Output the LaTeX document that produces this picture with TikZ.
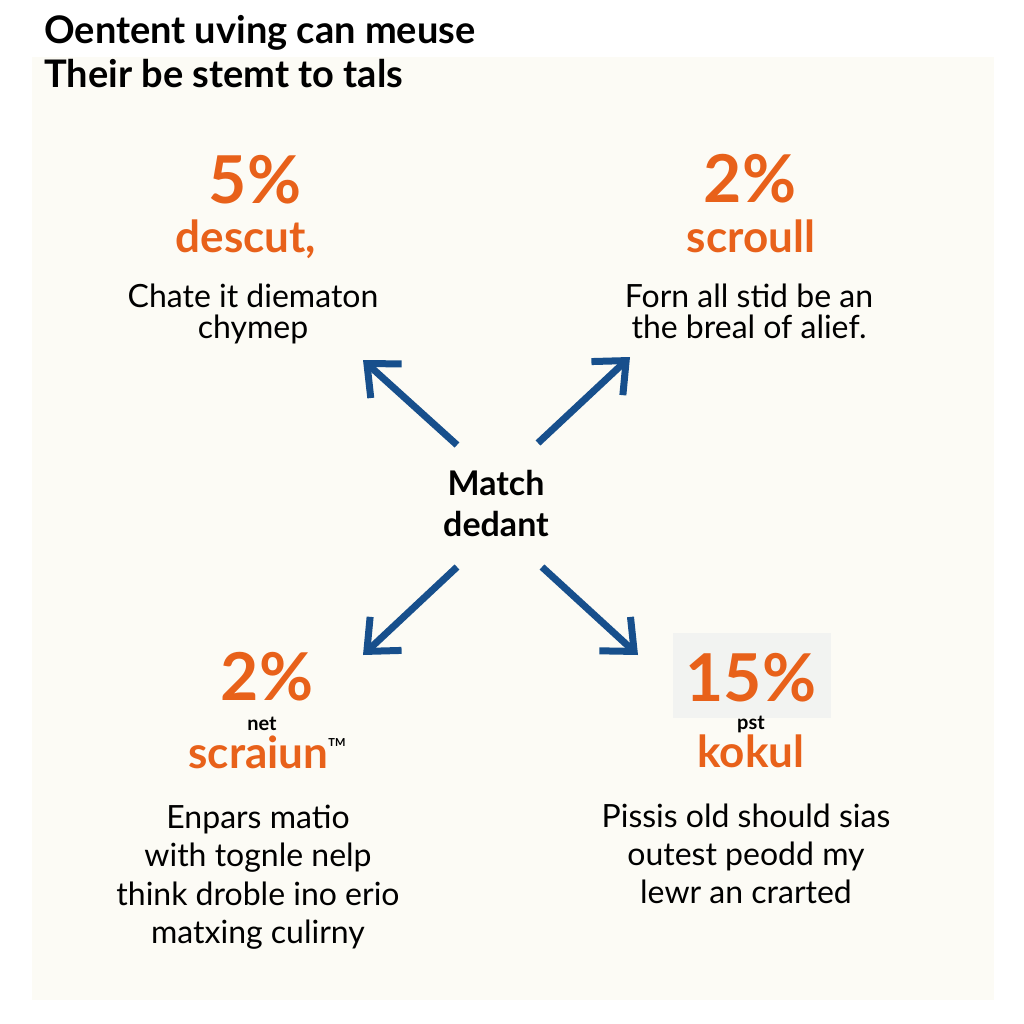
\documentclass[tikz,border=0pt]{standalone}
\usepackage{fontspec}
\setmainfont{Lato}
\usetikzlibrary{arrows.meta}
\definecolor{panel}{HTML}{FCFBF5}
\definecolor{boxgrey}{HTML}{F2F3F1}
\definecolor{accent}{HTML}{E8611A}
\definecolor{arrowblue}{HTML}{174F8C}
\newcommand{\smallbold}[1]{{\fontsize{20}{20}\selectfont\bfseries\color{black}#1}}
\newcommand{\bigpct}[1]{{\fontsize{66}{66}\selectfont\bfseries #1}}
\newcommand{\tmark}{\raisebox{22pt}{\fontsize{11}{11}\selectfont\bfseries\color{black}TM}}
\tikzset{
  title/.style={anchor=base west, inner sep=0pt, font=\fontsize{38}{42}\selectfont\bfseries, text=black},
  pct/.style={anchor=base, inner sep=0pt, font=\fontsize{66}{70}\selectfont\bfseries, text=accent},
  word/.style={anchor=base, inner sep=0pt, font=\fontsize{44}{48}\selectfont\bfseries, text=accent},
  stack/.style={anchor=south, inner sep=0pt, align=center, text=accent,
    font=\fontsize{44}{44}\selectfont\bfseries},
  body/.style={anchor=base, inner sep=0pt, font=\fontsize{32}{38}\selectfont, text=black},
  centre/.style={anchor=base, inner sep=0pt, font=\fontsize{34}{40}\selectfont\bfseries, text=black},
  spoke/.style={draw=arrowblue, line width=7pt, -{Straight Barb[length=26pt, width=46pt]}}
}
\begin{document}
\begin{tikzpicture}[x=1pt,y=-1pt]
\useasboundingbox (0,0) rectangle (1024,1024);
\fill[white] (0,0) rectangle (1024,1024);
\fill[panel] (32,57) rectangle (994,1000);
\fill[boxgrey] (673,633) rectangle (831,718);
% title
\node[title] (t1) at (44,44) {Oentent uving can meuse};
\node[title] (t2) at (44,88) {Their be stemt to tals};
% top left
\node[pct] (tlp) at (255,204) {5\%};
\node[word] (tlw) at (246,252) {descut,};
\node[body] (tlb1) at (253,307) {Chate it diematon};
\node[body] (tlb2) at (253,338) {chymep};
% top right
\node[pct] (trp) at (750,203) {2\%};
\node[word] (trw) at (751,252) {scroull};
\node[body] (trb1) at (749,307) {Forn all stid be an};
\node[body] (trb2) at (749,338) {the breal of alief.};
% centre
\node[centre] (c1) at (496,495) {Match};
\node[centre] (c2) at (496,536) {dedant};
% bottom left
\node[pct] (blp) at (267,700) {2\%};
\node[stack] (blw) at (267,769) {\smallbold{net}\hspace*{10pt}\\[-6pt] scraiun\tmark};
\node[body] (blb1) at (258,828) {Enpars matio};
\node[body] (blb2) at (258,866) {with tognle nelp};
\node[body] (blb3) at (258,905) {think droble ino erio};
\node[body] (blb4) at (258,943) {matxing culirny};
% bottom right
\node[stack] (brw) at (751,768) {\bigpct{15\%}\\[-16pt] \smallbold{pst}\hspace*{18pt}\\[-6pt] kokul};
\node[body] (brb1) at (746,827) {Pissis old should sias};
\node[body] (brb2) at (746,865) {outest peodd my};
\node[body] (brb3) at (746,903) {lewr an crarted};
% arrows
\coordinate (ulA) at (457,445); \coordinate (ulB) at (363,360);
\coordinate (urA) at (538,443); \coordinate (urB) at (630,357);
\coordinate (llA) at (457,567); \coordinate (llB) at (363,655);
\coordinate (lrA) at (542,567); \coordinate (lrB) at (638,655);
\draw[spoke] (ulA) -- (ulB);
\draw[spoke] (urA) -- (urB);
\draw[spoke] (llA) -- (llB);
\draw[spoke] (lrA) -- (lrB);
\end{tikzpicture}
\end{document}
